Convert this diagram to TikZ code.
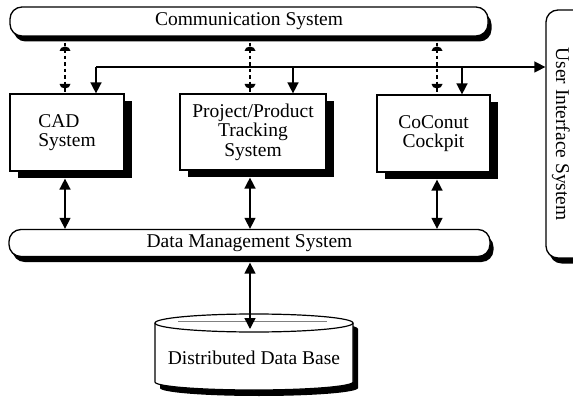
\documentclass[tikz,border=0pt]{standalone}
\usepackage{fontspec}
\setmainfont{Liberation Serif}
\usepackage{graphicx}
\usetikzlibrary{arrows.meta,shadows,calc}
\begin{document}
\begin{tikzpicture}[x=1pt,y=-1pt,
  every node/.style={font=\fontsize{19.5}{19.5}\selectfont, inner sep=0pt},
  bar/.style={draw, line width=1.3pt, fill=white, rounded corners=12pt,
    drop shadow={opacity=1, fill=black, shadow xshift=3.5pt, shadow yshift=-5.5pt}},
  box/.style={draw, line width=1.2pt, fill=white,
    drop shadow={opacity=1, fill=black, shadow xshift=8pt, shadow yshift=-7pt}},
  link/.style={line width=1.5pt, -{Triangle[length=11pt,width=11pt]}},
  dlink/.style={line width=1.5pt, {Triangle[length=11pt,width=11pt]}-{Triangle[length=11pt,width=11pt]}},
  dashlink/.style={line width=1.5pt, dash pattern=on 3.5pt off 3pt},
]
\useasboundingbox (0,0) rectangle (573,406);

% bars
\node[bar, minimum width=478pt, minimum height=29pt] (comm) at (249,21.5) {Communication System};
\node[bar, minimum width=481pt, minimum height=27pt] (dms) at (249.5,243) {Data Management System};
\node[bar, minimum width=50pt, minimum height=248pt] (ui) at (571,134) {};
\node (uilabel) at (561,134) {\rotatebox{-90}{User Interface System}};

% boxes
\node[box, minimum width=114pt, minimum height=77pt, align=left] (cad) at (67,132.5) {CAD\\System};
\node[box, minimum width=146pt, minimum height=76pt, align=center] (ppt) at (253,132) {Project/Product\\Tracking\\System};
\node[box, minimum width=113pt, minimum height=77pt, align=center] (coc) at (433.5,133.5) {CoConut\\Cockpit};

% database cylinder
\path[fill=white, draw, line width=1.2pt,
  drop shadow={opacity=1, fill=black, shadow xshift=5pt, shadow yshift=-6pt}]
  (155,323) -- (155,382) arc[start angle=180, end angle=0, x radius=99, y radius=8]
  -- (353,323) arc[start angle=0, end angle=-180, x radius=99, y radius=9] -- cycle;
\draw[line width=1.2pt] (155,323) arc[start angle=180, end angle=0, x radius=99, y radius=9];
\draw[line width=0.4pt, gray] (178,321.5) -- (327,321.5);
\node (db) at (254,357.5) {Distributed Data Base};
\coordinate (dbtop) at (250,329);

% x positions
\coordinate (d1) at (65,0);
\coordinate (d2) at (250,0);
\coordinate (d3) at (437,0);
\coordinate (j1) at (96,67);
\coordinate (j2) at (293,67);
\coordinate (j3) at (462,67);

% dashed links with caps
\foreach \n in {d1,d2,d3}{
  \draw[dashlink] ([yshift=-6pt]comm.south -| \n) -- (cad.north -| \n);
}
\foreach \x in {65,250,437}{
  \fill (\x-5.5,51) arc[start angle=180, end angle=360, x radius=5.5, y radius=4.5] -- cycle;
  \fill (\x-5.5,84) arc[start angle=180, end angle=0, x radius=5.5, y radius=4.5] -- cycle;
}

% user interface arrows
\draw[link] (j1) -- (ui.west |- j1);
\draw[link] (j1) -- (j1 |- cad.north);
\draw[link] (j2) -- (j2 |- ppt.north);
\draw[link] (j3) -- (j3 |- coc.north);

% data management arrows
\draw[dlink] ([yshift=-7pt]cad.south -| d1) -- (dms.north -| d1);
\draw[dlink] ([yshift=-7pt]ppt.south -| d2) -- (dms.north -| d2);
\draw[dlink] ([yshift=-7pt]coc.south -| d3) -- (dms.north -| d3);
\draw[dlink] ([yshift=-5.5pt]dms.south -| d2) -- (dbtop);
\end{tikzpicture}
\end{document}
